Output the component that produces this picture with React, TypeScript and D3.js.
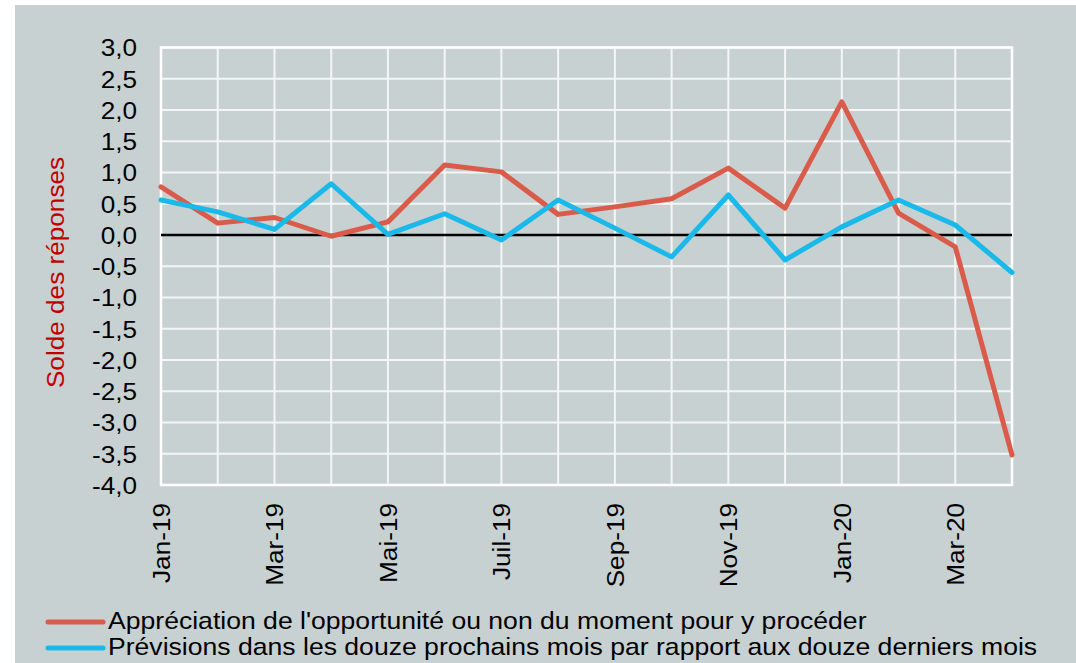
import * as d3 from 'd3'
import React, { useEffect, useRef } from 'react'

// months of the survey (only every other one is labelled on the axis)
const months = [
  'Jan-19', 'Fév-19', 'Mar-19', 'Avr-19', 'Mai-19', 'Juin-19', 'Juil-19', 'Août-19',
  'Sep-19', 'Oct-19', 'Nov-19', 'Déc-19', 'Jan-20', 'Fév-20', 'Mar-20', 'Avr-20',
]
const opportunite = [0.77, 0.19, 0.28, -0.02, 0.21, 1.12, 1.01, 0.33, 0.45, 0.58, 1.07, 0.43, 2.13, 0.35, -0.19, -3.52]
const previsions = [0.56, 0.37, 0.09, 0.82, 0.01, 0.34, -0.08, 0.56, 0.11, -0.35, 0.64, -0.4, 0.13, 0.56, 0.16, -0.6]
const yTicks = [-4, -3.5, -3, -2.5, -2, -1.5, -1, -0.5, 0, 0.5, 1, 1.5, 2, 2.5, 3]
const seriesNames = [
  "Appréciation de l'opportunité ou non du moment pour y procéder",
  'Prévisions dans les douze prochains mois par rapport aux douze derniers mois',
]
const seriesColors = ['#DA5B4A', '#19B9EA']
const yTitle = 'Solde des réponses'

const FONT = "'Liberation Sans', Arial, sans-serif"
const STRETCH = 'scale(1.09,1)'

function Chart() {
  const svgRef = useRef<SVGSVGElement>(null)

  useEffect(() => {
    const svg = d3.select(svgRef.current)
    svg.selectAll('*').remove()

    const width = 1076, height = 663
    const plot = { left: 161, right: 1012, top: 47.5, bottom: 485 }

    const x = d3.scalePoint<string>().domain(months).range([plot.left, plot.right])
    const y = d3.scaleLinear().domain([-4, 3]).range([plot.bottom, plot.top])

    const fr = d3.formatLocale({ decimal: ',', thousands: ' ', grouping: [3], currency: ['', ' €'], minus: '-' })
    const fmt = fr.format('.1f')

    svg.attr('width', width).attr('height', height)

    // grey panel
    svg.append('rect')
      .attr('x', 15).attr('y', 5)
      .attr('width', width - 15).attr('height', height - 5)
      .attr('fill', '#C8D1D2')

    // grid
    const grid = svg.append('g').attr('stroke', '#F4F6F6').attr('stroke-width', 2)
    grid.selectAll('line.h').data(yTicks).join('line')
      .attr('class', 'h')
      .attr('x1', plot.left).attr('x2', plot.right)
      .attr('y1', d => y(d)).attr('y2', d => y(d))
    grid.selectAll('line.v').data(months).join('line')
      .attr('class', 'v')
      .attr('x1', d => x(d)!).attr('x2', d => x(d)!)
      .attr('y1', plot.top).attr('y2', plot.bottom)
    svg.append('rect')
      .attr('x', plot.left).attr('y', plot.top)
      .attr('width', plot.right - plot.left).attr('height', plot.bottom - plot.top)
      .attr('fill', 'none').attr('stroke', '#FFFFFF').attr('stroke-width', 2.5)

    // zero line
    svg.append('line')
      .attr('x1', plot.left).attr('x2', plot.right)
      .attr('y1', y(0)).attr('y2', y(0))
      .attr('stroke', '#000').attr('stroke-width', 2.5)

    // series
    const line = d3.line<number>()
      .x((_, i) => x(months[i])!)
      .y(d => y(d))
    ;[opportunite, previsions].forEach((values, i) => {
      svg.append('path')
        .datum(values)
        .attr('d', line)
        .attr('fill', 'none')
        .attr('stroke', seriesColors[i])
        .attr('stroke-width', 5)
        .attr('stroke-linejoin', 'round')
        .attr('stroke-linecap', 'round')
    })

    // y axis labels
    const yAxis = svg.append('g')
      .attr('transform', 'translate(137,0)')
      .call(d3.axisLeft(y).tickValues(yTicks).tickFormat(d => fmt(d as number)).tickSize(0).tickPadding(0))
    yAxis.select('.domain').remove()
    yAxis.selectAll('text')
      .attr('x', 0).attr('dy', '0.35em')
      .attr('transform', STRETCH)
      .attr('font-size', 24).attr('font-family', FONT).attr('fill', '#000')

    // x axis labels
    const xAxis = svg.append('g')
      .attr('transform', 'translate(0,503)')
      .call(d3.axisBottom(x).tickValues(months.filter((_, i) => i % 2 === 0)).tickSize(0))
    xAxis.select('.domain').remove()
    xAxis.selectAll('text')
      .attr('x', 0).attr('y', 0).attr('dy', '0.35em')
      .attr('text-anchor', 'end')
      .attr('transform', 'rotate(-90) ' + STRETCH)
      .attr('font-size', 24).attr('font-family', FONT).attr('fill', '#000')

    // y title
    svg.append('text')
      .attr('transform', 'translate(64,272.5) rotate(-90) ' + STRETCH)
      .attr('text-anchor', 'middle')
      .attr('font-size', 24).attr('font-family', FONT)
      .attr('fill', '#C00000')
      .text(yTitle)

    // legend
    const legend = svg.append('g')
    seriesNames.forEach((name, i) => {
      const ly = 622 + i * 26
      legend.append('line')
        .attr('x1', 48).attr('x2', 103)
        .attr('y1', ly).attr('y2', ly)
        .attr('stroke', seriesColors[i]).attr('stroke-width', 5)
        .attr('stroke-linecap', 'round')
      legend.append('text')
        .attr('transform', `translate(108,${ly + 6.5}) scale(1.108,1)`)
        .attr('font-size', 24).attr('font-family', FONT).attr('fill', '#000')
        .text(name)
    })
  }, [])

  return (
    <svg ref={svgRef} style={{ position: 'fixed', left: 0, top: 0, background: '#fff' }}></svg>
  )
}

export default function App() {
  return <Chart />
}
